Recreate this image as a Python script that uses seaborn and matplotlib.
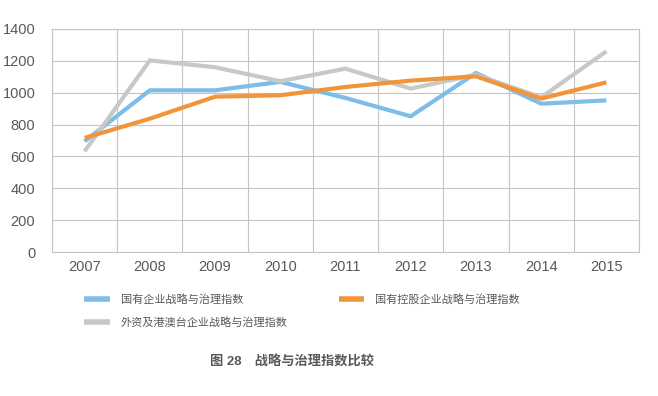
import pandas as pd
import matplotlib.pyplot as plt
import seaborn as sns

# Data
years = [2007, 2008, 2009, 2010, 2011, 2012, 2013, 2014, 2015]
soe = [695, 1015, 1015, 1068, 967, 852, 1124, 931, 952]
state_holding = [716, 837, 975, 984, 1036, 1076, 1103, 963, 1065]
foreign_hkmt = [632, 1203, 1160, 1072, 1151, 1026, 1113, 971, 1260]

series_names = ['国有企业战略与治理指数', '外资及港澳台企业战略与治理指数', '国有控股企业战略与治理指数']
series_values = [soe, foreign_hkmt, state_holding]
palette = ['#7dbde8', '#c8c8c8', '#f0953a']

df = pd.concat([
    pd.DataFrame({'year': years, 'value': vals, 'series': name})
    for name, vals in zip(series_names, series_values)
])

sns.set_style('white')
plt.rcParams['font.family'] = ['Liberation Sans', 'Noto Sans CJK SC', 'DejaVu Sans']
text_color = '#595959'
grid_color = '#c4c4c4'

fig = plt.figure(figsize=(6.58, 3.96), dpi=100)
ax = fig.add_axes([52 / 658, 1 - 252 / 396, 587 / 658, 223 / 396])

sns.lineplot(data=df, x='year', y='value', hue='series', hue_order=series_names,
             palette=palette, linewidth=3, ax=ax, legend=False)
for line in ax.get_lines():
    line.set_solid_capstyle('butt')

ax.set_xlim(2006.5, 2015.5)
ax.set_ylim(0, 1400)
ax.set_yticks(range(0, 1401, 200))
ax.set_xticks(years)
ax.set_xticks([y - 0.5 for y in years] + [2015.5], minor=True)
ax.grid(False)
ax.grid(axis='y', which='major', color=grid_color, linewidth=0.8)
ax.grid(axis='x', which='minor', color=grid_color, linewidth=0.8)
ax.tick_params(axis='x', which='major', length=0, pad=6, labelsize=10.5, labelcolor=text_color)
ax.tick_params(axis='x', which='minor', length=4, color=grid_color, width=0.8)
ax.tick_params(axis='y', length=0, pad=12, labelsize=10.5, labelcolor=text_color)
for s in ax.spines.values():
    s.set_color(grid_color)
    s.set_linewidth(0.8)
ax.set_xlabel('')
ax.set_ylabel('')

handles = [plt.Line2D([], [], color=c, linewidth=4, solid_capstyle='butt') for c in palette]
fig.legend(handles, series_names, ncol=2, loc='upper left',
           bbox_to_anchor=(74 / 658, 1 - 284 / 396), frameon=False,
           fontsize=8, labelcolor=text_color, handlelength=2.3,
           handletextpad=1.0, columnspacing=4.6, labelspacing=1.1)

fig.text(292 / 658, 1 - 362 / 396, '图 28　战略与治理指数比较', ha='center', va='center',
         fontsize=9.5, fontweight='bold', color=text_color)

fig.savefig('out.png', dpi=100)
